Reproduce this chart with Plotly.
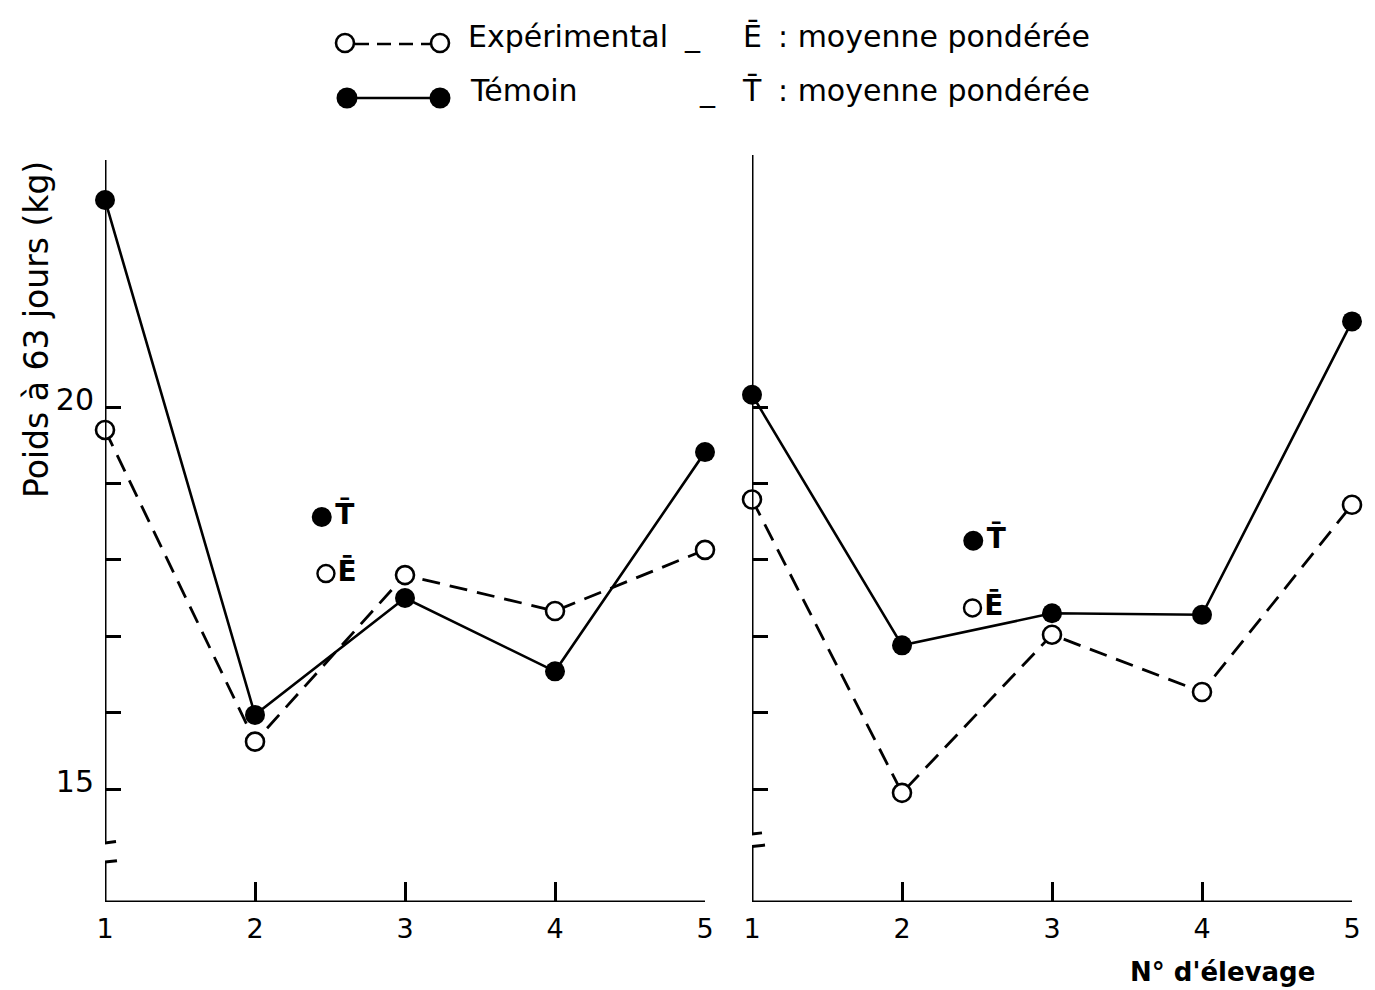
import plotly.graph_objects as go

W, H = 1375, 990
MT, MB = 150, 88

# ---- data ----
elevages = [1, 2, 3, 4, 5]
x_tick_labels = ["1", "2", "3", "4", "5"]
temoin_left = [22.71, 15.97, 17.50, 16.54, 19.41]
exp_left = [19.70, 15.62, 17.80, 17.33, 18.13]
temoin_right = [20.16, 16.88, 17.30, 17.28, 21.12]
exp_right = [18.79, 14.95, 17.02, 16.27, 18.72]
mean_T_left_x, mean_T_left_y = [2.445], [18.56]
mean_E_left_x, mean_E_left_y = [2.473], [17.82]
mean_T_right_x, mean_T_right_y = [2.475], [18.25]
mean_E_right_x, mean_E_right_y = [2.47], [17.37]
y_tick_vals = [15, 16, 17, 18, 19, 20]
y_tick_text_left = ["15", "", "", "", "", "20"]
y_tick_text_right = ["", "", "", "", "", ""]

Y_RANGE = [13.521, 23.364]
FONT = "DejaVu Sans"
BLACK = "#000000"


def px(x):
    return x / W


def py(y):
    return (H - MB - y) / (H - MT - MB)


fig = go.Figure()

solid = dict(color=BLACK, width=2.6)
dashed = dict(color=BLACK, width=2.8, dash="18px,10px")
filled = dict(symbol="circle", size=20, color=BLACK, line=dict(width=0))
hollow = dict(symbol="circle", size=18, color="white", line=dict(color=BLACK, width=2.6))

for xa, ya, tem, exp in (("x", "y", temoin_left, exp_left), ("x2", "y2", temoin_right, exp_right)):
    fig.add_trace(go.Scatter(x=elevages, y=tem, mode="lines+markers", line=solid, marker=filled,
                             xaxis=xa, yaxis=ya, cliponaxis=False, showlegend=False))
    fig.add_trace(go.Scatter(x=elevages, y=exp, mode="lines+markers", line=dashed, marker=hollow,
                             xaxis=xa, yaxis=ya, cliponaxis=False, showlegend=False))

mean_font = dict(family=FONT, size=28, color=BLACK, weight="bold")
for xa, ya, tx, ty, ex, ey in (
    ("x", "y", mean_T_left_x, mean_T_left_y, mean_E_left_x, mean_E_left_y),
    ("x2", "y2", mean_T_right_x, mean_T_right_y, mean_E_right_x, mean_E_right_y),
):
    fig.add_trace(go.Scatter(x=tx, y=ty, mode="markers+text", text=["T\u0304"], textposition="middle right",
                             textfont=mean_font, marker=filled, xaxis=xa, yaxis=ya,
                             cliponaxis=False, showlegend=False))
    fig.add_trace(go.Scatter(x=ex, y=ey, mode="markers+text", text=["E\u0304"], textposition="middle right",
                             textfont=mean_font, marker=dict(symbol="circle", size=17, color="white",
                                                             line=dict(color=BLACK, width=2.4)),
                             xaxis=xa, yaxis=ya, cliponaxis=False, showlegend=False))

xcommon = dict(range=[1, 5], tickvals=elevages, ticktext=x_tick_labels, ticks="inside", ticklen=20,
               tickwidth=3, tickcolor=BLACK, showline=False, showgrid=False, zeroline=False,
               ticklabelstandoff=8, automargin=False,
               tickfont=dict(family=FONT, size=27, color=BLACK), fixedrange=True)
ycommon = dict(range=Y_RANGE, tickvals=y_tick_vals, ticks="inside", ticklen=16, tickwidth=3,
               tickcolor=BLACK, showline=False, showgrid=False, zeroline=False,
               ticklabelstandoff=10, ticklabelshift=-8, automargin=False,
               tickfont=dict(family=FONT, size=30, color=BLACK), fixedrange=True)

fig.update_layout(
    width=W, height=H,
    margin=dict(l=0, r=0, t=MT, b=MB, pad=0, autoexpand=False),
    paper_bgcolor="white", plot_bgcolor="white",
    showlegend=False,
    xaxis=dict(domain=[px(105), px(705)], anchor="y", **xcommon),
    yaxis=dict(domain=[0, 1], anchor="x", ticktext=y_tick_text_left, **ycommon),
    xaxis2=dict(domain=[px(752), px(1352)], anchor="y2", **xcommon),
    yaxis2=dict(domain=[0, 1], anchor="x2", ticktext=y_tick_text_right, **ycommon),
)

shapes = []
axis_line = dict(color=BLACK, width=3)


def vseg(xref, yref, y0, y1):
    shapes.append(dict(type="line", xref=xref, yref=yref, x0=1, x1=1, y0=y0, y1=y1, line=axis_line))


def mark(xref, yref, yval, dl, dr, tilt):
    shapes.append(dict(type="line", xref=xref, yref=yref, xsizemode="pixel", xanchor=1,
                       x0=-dl, x1=dr, ysizemode="pixel", yanchor=yval, y0=-tilt, y1=tilt,
                       line=axis_line))


# left panel axes (broken y axis)
vseg("x", "y", Y_RANGE[0], 14.045)
vseg("x", "y", 14.293, 23.233)
mark("x", "y", 14.293, 12, 11, 1.6)
mark("x", "y", 14.045, 10, 12, 1.3)
shapes.append(dict(type="line", xref="x", yref="y", x0=1, x1=5, y0=Y_RANGE[0], y1=Y_RANGE[0], line=axis_line))
# right panel axes
vseg("x2", "y2", Y_RANGE[0], 14.25)
vseg("x2", "y2", 14.41, 23.30)
mark("x2", "y2", 14.41, 12, 10, 1.2)
mark("x2", "y2", 14.25, 9, 13, 1.2)
shapes.append(dict(type="line", xref="x2", yref="y2", x0=1, x1=5, y0=Y_RANGE[0], y1=Y_RANGE[0], line=axis_line))


# legend symbols (decoration in paper coordinates)
def circle(cx, cy, r, fill):
    shapes.append(dict(type="circle", xref="paper", yref="paper",
                       x0=px(cx - r), x1=px(cx + r), y0=py(cy + r), y1=py(cy - r),
                       fillcolor=fill, line=dict(color=BLACK, width=2.6 if fill == "white" else 0)))


shapes.append(dict(type="line", xref="paper", yref="paper", x0=px(355), x1=px(430), y0=py(44), y1=py(44),
                   line=dict(color=BLACK, width=2.6, dash="14px,8px")))
circle(345, 43, 9, "white")
circle(440, 43, 9, "white")
shapes.append(dict(type="line", xref="paper", yref="paper", x0=px(347), x1=px(440), y0=py(98), y1=py(98),
                   line=dict(color=BLACK, width=2.6)))
circle(347, 98, 10.5, BLACK)
circle(440, 98, 10.5, BLACK)

fig.update_layout(shapes=shapes)

ann_font = dict(family=FONT, size=30, color=BLACK)


def text(t, x, y, xanchor="left", **kw):
    fig.add_annotation(text=t, x=px(x), y=py(y), xref="paper", yref="paper", xanchor=xanchor,
                       yanchor="middle", showarrow=False, font=kw.pop("font", ann_font), **kw)


text("Expérimental", 466, 37)
text("_", 692, 36, xanchor="center")
text("E\u0304", 752, 37, xanchor="center")
text(": moyenne pondérée", 776, 37)
text("Témoin", 468, 90)
text("_", 707, 90, xanchor="center")
text("T\u0304", 752, 90, xanchor="center")
text(": moyenne pondérée", 776, 90)

text("Poids à 63 jours (kg)", 36, 330, xanchor="center", textangle=-90,
     font=dict(family=FONT, size=33, color=BLACK))
text("N° d'élevage", 1222, 972, xanchor="center",
     font=dict(family=FONT, size=26, color=BLACK, weight="bold"))

fig.write_html("out.html")
